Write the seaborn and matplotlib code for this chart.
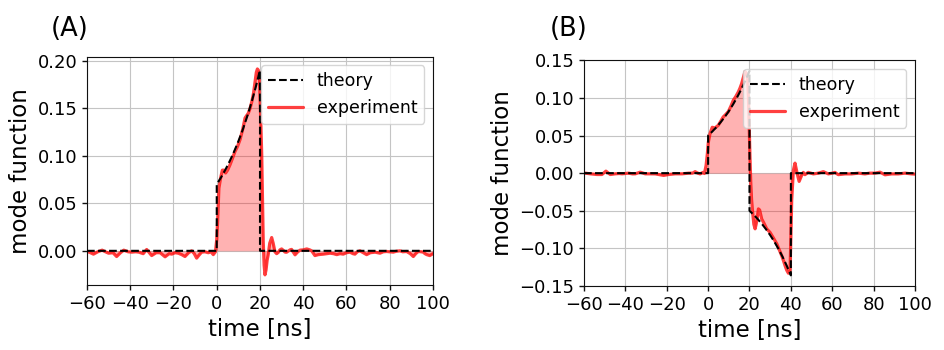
import matplotlib
matplotlib.use("Agg")
import matplotlib.pyplot as plt
import seaborn as sns
import pandas as pd

# ---- panel A: single-peaked mode function ----
theory_a_t = [-60, 0, 0, 2, 4, 6, 8, 10, 12, 14, 16, 18, 20, 20, 100]
theory_a_v = [0, 0, 0.0700, 0.0774, 0.0855, 0.0945, 0.1044, 0.1154, 0.1275,
              0.1410, 0.1558, 0.1722, 0.1903, 0, 0]

exp_a_t = [-60, -59, -57, -55, -53, -51.5, -50, -48, -46.3, -44.5, -43, -41,
           -39.3, -37.5, -36, -34, -32.4, -30.1, -28, -26.2, -23.9, -22, -20.8,
           -19.3, -17.8, -16.2, -14.7, -13, -11.6, -10.4, -9.3, -8, -7, -5.5,
           -3.9, -2.7, -1.6, -0.6, 0.0, 0.4, 1.0, 1.8, 2.6, 3.3, 4.1, 5.0, 6.1,
           7.2, 8.4, 9.6, 10.75, 12.0, 13.1, 14.0, 14.6, 15.4, 16.2, 17.0, 17.7,
           18.3, 18.8, 19.3, 19.7, 20.2, 20.8, 21.2, 21.5, 21.9, 22.3, 22.8,
           23.3, 23.8, 24.5, 25.4, 26.1, 26.9, 27.7, 28.5, 29.2, 30.0, 31.0,
           31.6, 32.3, 33.9, 34.6, 36.2, 37.5, 38.5, 40, 41.6, 43, 43.9, 45.4,
           47, 49.3, 51, 52.4, 54, 55.5, 57, 58.5, 60, 61.6, 63, 63.9, 65, 66.2,
           67.8, 69.3, 71, 73.2, 74.5, 75.5, 77, 78.6, 80, 81.6, 83, 84.7, 86,
           87.8, 89.5, 90.9, 92, 93.2, 94.5, 95.5, 96.3, 97.1, 98.5, 100]
exp_a_v = [-0.001, -0.0014, -0.0035, -0.001, 0.0007, -0.001, -0.0025, -0.002,
           -0.006, -0.002, 0.0007, -0.001, -0.0014, -0.001, -0.0014, -0.003,
           0.0014, -0.005, -0.002, -0.002, -0.0063, -0.003, -0.0035, -0.002,
           -0.0025, -0.004, -0.006, -0.002, 0.0, -0.003, -0.0077, -0.004,
           -0.0014, -0.001, -0.002, -0.001, -0.004, -0.001, 0.012, 0.031, 0.066,
           0.077, 0.085, 0.085, 0.082, 0.085, 0.0905, 0.097, 0.1045, 0.110,
           0.117, 0.128, 0.140, 0.143, 0.145, 0.150, 0.157, 0.166, 0.178, 0.188,
           0.1916, 0.190, 0.182, 0.150, 0.101, 0.045, 0.0098, -0.015, -0.0253,
           -0.020, -0.010, -0.004, 0.008, 0.014, 0.008, -0.001, -0.003, -0.0015,
           0.001, 0.002, 0.0, -0.0014, -0.0015, 0.001, 0.0015, -0.0042, -0.001,
           0.0007, 0.001, 0.002, 0.001, 0.0, -0.005, -0.004, -0.0035, -0.003,
           -0.0025, -0.003, -0.004, -0.003, -0.0035, -0.002, -0.0014, -0.003,
           -0.0035, -0.001, 0.0, -0.002, -0.004, -0.002, -0.0014, -0.002,
           -0.0025, -0.001, -0.0007, -0.001, -0.0014, -0.0005, 0.0, -0.001,
           -0.0007, -0.003, -0.006, -0.003, -0.0007, -0.001, -0.0014, -0.003,
           -0.004, -0.005, -0.003]

# ---- panel B: two-lobed mode function ----
theory_b_t = [-60, 0, 0, 2, 4, 6, 8, 10, 12, 14, 16, 18, 20,
              20, 22, 24, 26, 28, 30, 32, 34, 36, 38, 40, 40, 100]
theory_b_v = [0, 0, 0.0500, 0.0553, 0.0611, 0.0675, 0.0746, 0.0824, 0.0911,
              0.1007, 0.1113, 0.1230, 0.1359,
              -0.0500, -0.0553, -0.0611, -0.0675, -0.0746, -0.0824, -0.0911,
              -0.1007, -0.1113, -0.1230, -0.1359, 0, 0]

exp_b_t = [-60, -59.4, -56.9, -53.7, -51.3, -49.4, -47.3, -44.9, -43, -41.6,
           -38.4, -36.5, -35.2, -32.8, -30.4, -27.9, -25.5, -23.9, -21.5, -19.1,
           -15.9, -12.6, -9.4, -7.5, -6.3, -5, -3.9, -2.5, -1.8, -1.0, -0.4,
           0.1, 0.9, 2.0, 3.3, 4.9, 6.1, 7.3, 8.5, 9.8, 11.0, 12.2, 13.4, 14.6,
           15.4, 16.2, 17.0, 17.8, 18.5, 19.1, 19.5, 19.8, 20.2, 20.6, 21.0,
           21.5, 22.1, 22.7, 23.2, 23.8, 24.3, 24.9, 25.9, 26.7, 28.3, 29.9,
           31.5, 33.2, 34.4, 35.6, 36.5, 37.2, 38.0, 38.8, 39.6, 40.0, 40.4,
           41.2, 42.0, 43.0, 44.0, 45.2, 46.0, 46.8, 48.4, 50.9, 53.3, 55.7,
           58.1, 60.0, 61.3, 62.9, 66.2, 69.4, 72.6, 75.8, 78, 80.7, 83.1,
           85.5, 88.7, 91.9, 95.2, 98.4, 100]
exp_b_v = [0.0, 0.0, -0.0009, -0.0018, -0.0018, 0.0027, -0.0018, -0.0009,
           -0.0005, -0.0009, 0.0, -0.001, -0.0009, 0.0013, -0.0009, -0.0009,
           -0.001, -0.0018, -0.003, -0.0018, -0.0009, -0.0009, 0.0, 0.0, 0.002,
           0.0, -0.001, 0.001, -0.0005, 0.010, 0.025, 0.041, 0.0525, 0.061,
           0.060, 0.0636, 0.069, 0.0747, 0.078, 0.082, 0.089, 0.097, 0.102,
           0.108, 0.113, 0.119, 0.127, 0.135, 0.133, 0.128, 0.100, 0.068, 0.025,
           -0.012, -0.035, -0.052, -0.068, -0.074, -0.068, -0.0587, -0.0475,
           -0.049, -0.061, -0.065, -0.074, -0.0787, -0.086, -0.094, -0.102,
           -0.110, -0.117, -0.123, -0.129, -0.133, -0.130, -0.085, -0.036,
           0.0036, 0.0133, 0.0, -0.011, -0.003, 0.001, -0.002, 0.001, -0.001,
           0.0, 0.002, -0.001, 0.0, 0.001, -0.002, -0.001, -0.001, 0.0, -0.001,
           0.0, 0.0, 0.0013, -0.0022, -0.001, -0.001, 0.0, -0.001, -0.0013]

panels = [
    ("(A)", theory_a_t, theory_a_v, exp_a_t, exp_a_v,
     (-0.036, 0.2045), [0.00, 0.05, 0.10, 0.15, 0.20]),
    ("(B)", theory_b_t, theory_b_v, exp_b_t, exp_b_v,
     (-0.15, 0.15), [-0.15, -0.10, -0.05, 0.00, 0.05, 0.10, 0.15]),
]
x_ticks = [-60, -40, -20, 0, 20, 40, 60, 80, 100]

sns.set_style("ticks", rc={
    "axes.grid": True,
    "grid.color": "#c4c4c4",
    "grid.linewidth": 1.0,
    "axes.edgecolor": "#111111",
    "axes.linewidth": 1.0,
    "axes.labelcolor": "black",
    "text.color": "black",
    "xtick.color": "#111111",
    "ytick.color": "#111111",
})
plt.rcParams["font.family"] = ["DejaVu Sans"]

fig = plt.figure(figsize=(9.45, 3.5), dpi=100)
ax_rects = [
    [87 / 945, 1 - 285 / 350, 346 / 945, (285 - 56.7) / 350],
    [584 / 945, 1 - 286 / 350, 331 / 945, (286 - 60.3) / 350],
]
title_pos = [(70 / 945, 1 - 29.5 / 350), (568.5 / 945, 1 - 29.5 / 350)]

for (tag, tt, tv, et, ev, ylim, yticks), rect, tpos in zip(panels, ax_rects, title_pos):
    ax = fig.add_axes(rect)
    theory = pd.DataFrame({"time": tt, "value": tv})
    experiment = pd.DataFrame({"time": et, "value": ev})

    ax.fill_between(experiment["time"], experiment["value"], 0,
                    color="red", alpha=0.3, linewidth=0, zorder=1)
    sns.lineplot(data=theory, x="time", y="value", ax=ax, estimator=None,
                 sort=False, color="black", linestyle="--", linewidth=1.5,
                 label="theory", zorder=3)
    sns.lineplot(data=experiment, x="time", y="value", ax=ax, estimator=None,
                 sort=False, color="red", alpha=0.75, linewidth=2.3,
                 label="experiment", zorder=2)

    ax.set_xlim(-60, 100)
    ax.set_ylim(*ylim)
    ax.set_xticks(x_ticks)
    ax.set_yticks(yticks)
    ax.set_yticklabels([f"{v:.2f}".replace("-", "\u2212") for v in yticks])
    ax.tick_params(labelsize=13, length=3.5, width=1, labelcolor="black")
    ax.set_xlabel("time [ns]", fontsize=16.5)
    ax.set_ylabel("mode function", fontsize=16.5)
    for s in ax.spines.values():
        s.set_visible(True)
    leg = ax.legend(loc="upper right", fontsize=12.5, frameon=True, fancybox=True,
                    framealpha=0.8, edgecolor="#cccccc")
    for txt in leg.get_texts():
        txt.set_color("black")
    fig.text(tpos[0], tpos[1], tag, fontsize=18.5, ha="center", va="center")

fig.savefig("out.png", dpi=100)
